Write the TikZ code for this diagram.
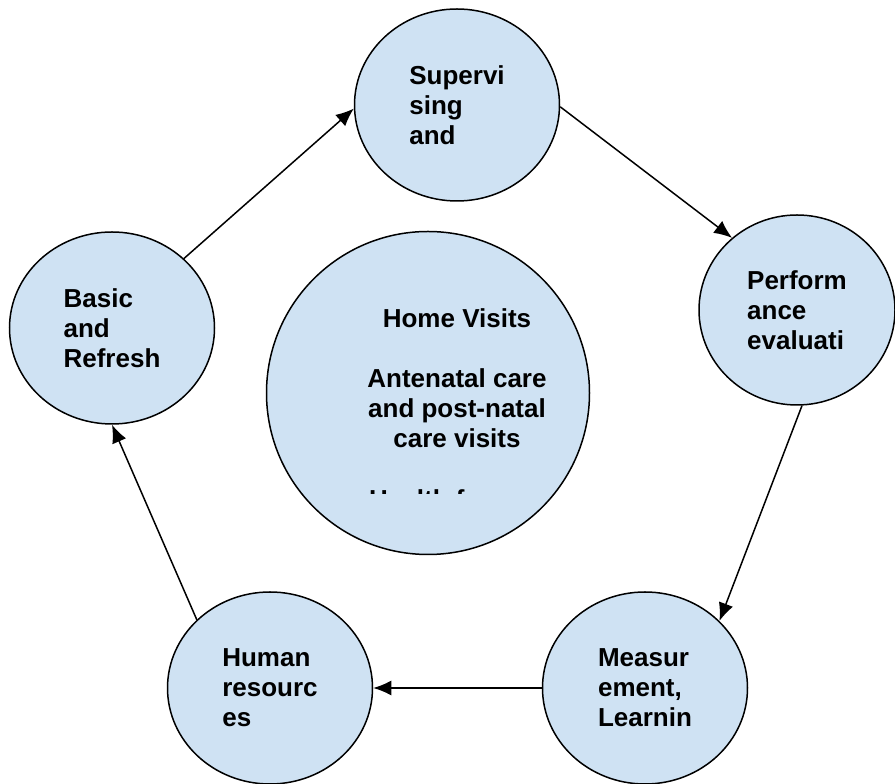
\documentclass[tikz,border=0pt]{standalone}
\usepackage{fontspec}
\setmainfont{Liberation Sans}
\usepackage{tikz}
\usetikzlibrary{arrows.meta,positioning,shapes.geometric}
\definecolor{stageFill}{HTML}{CFE2F3}
\tikzset{
  stage/.style={ellipse, draw=black, line width=1.5pt, fill=stageFill, inner sep=0pt, minimum width=205pt, minimum height=192pt, align=left, font=\bfseries\fontsize{26}{30}\selectfont},
  hub/.style={ellipse, draw=black, line width=1.5pt, fill=stageFill, inner sep=0pt, minimum width=323pt, minimum height=323pt},
  hubtext/.style={align=center, inner sep=0pt, font=\bfseries\fontsize{26}{30}\selectfont},
  arrow/.style={-{Latex[length=18pt,width=15pt]}, line width=1.5pt, draw=black}
}

\begin{document}
\begin{tikzpicture}[x=1pt, y=1pt]
\useasboundingbox (0,0) rectangle (895,784);
\node[stage] (sup) at (457,679) {Supervi\\sing\\and};
\node[stage, minimum width=196pt, minimum height=190pt] (perf) at (797,474) {Perform\\ance\\evaluati};
\node[stage] (meas) at (645,96) {Measur\\ement,\\Learnin};
\node[stage] (hum) at (270,96) {Human\\resourc\\es};
\node[stage] (basic) at (112,456) {Basic\\and\\Refresh};
\node[hub] (home) at (428,391) {};
\node[hubtext, anchor=north] (homeText) at (457,476) {Home Visits\\[30pt]Antenatal care\\and post-natal\\care visits};
% last line only shows its top edge
\begin{scope}
\clip (300,290) rectangle (600,294.5);
\node[hubtext, anchor=base west] (homeMore) at (369,275) {Health f};
\end{scope}
\draw[arrow] (basic.44) -- (sup.182);
\draw[arrow] (sup.-1) -- (perf.132);
\draw[arrow] (perf.-87) -- (meas.42);
\draw[arrow] (meas.180) -- (hum.0);
\draw[arrow] (hum.137) -- (basic.-90);
\end{tikzpicture}
\end{document}
